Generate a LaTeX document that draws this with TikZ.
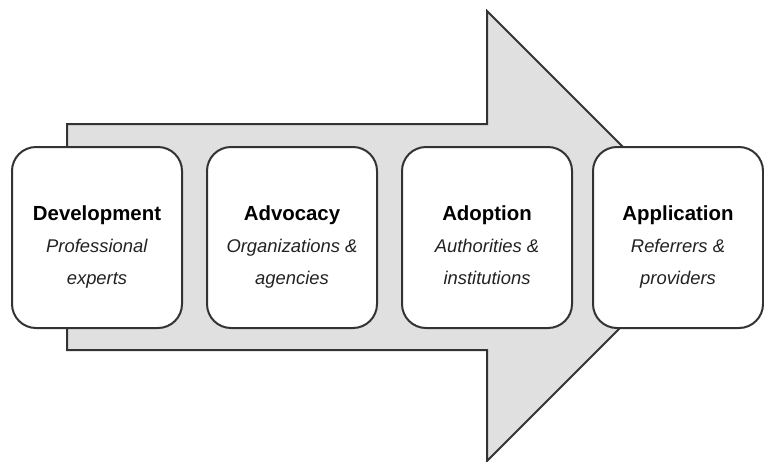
\documentclass[tikz,border=0pt]{standalone}
\usepackage{fontspec}
\setmainfont{Liberation Sans}
\usepackage{tikz}

\definecolor{arrowgray}{HTML}{E0E0E0}
\definecolor{edgegray}{HTML}{333333}
\definecolor{subgray}{HTML}{222222}

\begin{document}
\begin{tikzpicture}[x=0.5pt,y=-0.5pt]
	\tikzstyle{stage}=[rectangle,draw=edgegray,line width=1pt,rounded corners=12pt,fill=white,minimum width=85pt,minimum height=90.5pt,inner sep=0pt]
	\tikzstyle{caption}=[align=center,text=black,font=\fontsize{9.2}{16}\selectfont]
	\useasboundingbox (0,0) rectangle (764,461);
	% big block arrow behind the stages
	\draw[draw=edgegray,line width=1pt,fill=arrowgray,line join=miter]
		(67,124) -- (487,124) -- (487,11) -- (712,236) -- (487,461) -- (487,350) -- (67,350) -- cycle;
	\node[stage] (1) at (97,237.5) {};
	\node[stage] (2) at (292,237.5) {};
	\node[stage] (3) at (487,237.5) {};
	\node[stage] (4) at (678,237.5) {};
	\node[caption,yshift=-4.5pt] (t1) at (1) {{\fontsize{10.2}{16}\selectfont\bfseries\strut Development}\\\textcolor{subgray}{\textit{Professional}}\\\textcolor{subgray}{\textit{experts}}\strut};
	\node[caption,yshift=-4.5pt] (t2) at (2) {{\fontsize{10.2}{16}\selectfont\bfseries\strut Advocacy}\\\textcolor{subgray}{\textit{Organizations \&}}\\\textcolor{subgray}{\textit{agencies}}\strut};
	\node[caption,yshift=-4.5pt] (t3) at (3) {{\fontsize{10.2}{16}\selectfont\bfseries\strut Adoption}\\\textcolor{subgray}{\textit{Authorities \&}}\\\textcolor{subgray}{\textit{institutions}}\strut};
	\node[caption,yshift=-4.5pt] (t4) at (4) {{\fontsize{10.2}{16}\selectfont\bfseries\strut Application}\\\textcolor{subgray}{\textit{Referrers \&}}\\\textcolor{subgray}{\textit{providers}}\strut};
\end{tikzpicture}
\end{document}
